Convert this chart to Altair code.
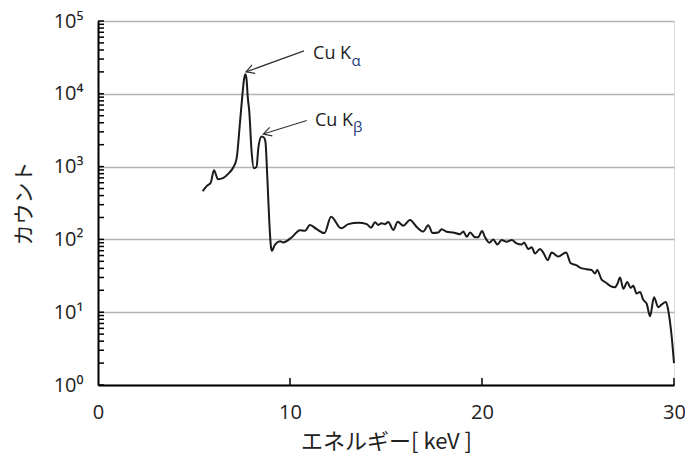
import altair as alt
import pandas as pd

# Spectrum (energy in keV, counts)
energy = [5.45, 5.66, 5.87, 6.04, 6.25, 6.53, 6.79, 7.05, 7.22, 7.40, 7.52, 7.61, 7.68, 7.74, 7.80, 7.88,
          8.00, 8.12, 8.26, 8.35, 8.52, 8.65, 8.72, 8.82, 8.92, 9.01, 9.06, 9.22, 9.48, 9.65,
          10.09, 10.52, 10.78, 11.04, 11.39, 11.79, 12.14, 12.66, 13.04, 13.56, 14.00, 14.22,
          14.43, 14.60, 14.77, 14.95, 15.12, 15.38, 15.61, 15.90, 16.25, 16.60, 16.94, 17.20,
          17.43, 17.72, 17.90, 18.16, 18.50, 18.85, 19.03, 19.20, 19.38, 19.64, 19.80, 20.00,
          20.16, 20.38, 20.59, 20.80, 21.02, 21.28, 21.55, 21.80, 22.07, 22.19, 22.41, 22.59,
          22.76, 23.02, 23.19, 23.42, 23.63, 23.97, 24.38, 24.62, 24.93, 25.10, 25.45, 25.71,
          25.89, 26.00, 26.23, 26.41, 26.67, 26.93, 27.05, 27.19, 27.36, 27.57, 27.74, 27.88,
          28.05, 28.23, 28.40, 28.58, 28.75, 28.96, 29.18, 29.36, 29.58, 29.70, 29.88, 30.00]
counts = [460, 540, 600, 890, 670, 700, 800, 980, 1300, 4200, 9600, 16000, 18500, 15500, 9000, 5700,
          1600, 950, 1000, 1800, 2600, 2500, 2200, 700, 180, 78, 70, 85, 94, 91,
          107, 134, 131, 158, 138, 122, 204, 142, 162, 169, 162, 145,
          172, 158, 167, 162, 174, 135, 175, 154, 184, 148, 128, 157,
          122, 124, 138, 127, 124, 118, 128, 109, 124, 107, 107, 130,
          107, 90, 100, 85, 98, 93, 98, 88, 85, 91, 74, 78,
          64, 74, 66, 52, 66, 58, 66, 47, 44, 41, 39, 38,
          34, 38, 28, 26, 23, 22, 24.5, 30, 21, 26, 21.6, 23,
          18, 19, 14.8, 13, 8.8, 16, 11.7, 12.8, 13.8, 10.6, 4.6, 2.0]

# Axes
x_ticks = [0, 10, 20, 30]
y_ticks = [1, 10, 100, 1000, 10000, 100000]
y_minor = [m * d for d in [1, 10, 100, 1000, 10000] for m in range(1, 10)] + [100000]

# Annotations
ann_label = ["Cu K", "Cu K"]
ann_sub = ["α", "β"]
ann_text_x = [11.2, 11.3]
ann_text_y = [34900, 4170]
ann_sub_x = [13.2, 13.28]
ann_sub_y = [28000, 3450]
arrow_x1 = [10.73, 10.87]
arrow_y1 = [38900, 4300]
arrow_x2 = [7.71, 8.61]
arrow_y2 = [20000, 2800]
arrow_angle = [160, 162.5]

spec = pd.DataFrame({"x": energy, "y": counts})
minor = pd.DataFrame({"y": y_minor})
xt = pd.DataFrame({"x": x_ticks[1:]})
ann = pd.DataFrame({
    "label": ann_label, "sub": ann_sub,
    "tx": ann_text_x, "ty": ann_text_y, "sx": ann_sub_x, "sy": ann_sub_y,
    "x1": arrow_x1, "y1": arrow_y1, "x2": arrow_x2, "y2": arrow_y2, "ang": arrow_angle,
})

W, H = 576, 364
LABEL_FONT = "Open Sans"
CJK_FONT = "Noto Sans CJK JP"

xscale = alt.Scale(domain=[0, 30], nice=False, zero=False)
yscale = alt.Scale(type="log", domain=[1, 100000], nice=False)

xaxis = alt.Axis(
    values=x_ticks, title="エネルギー[ keV ]", grid=False, ticks=False, tickSize=0,
    domainColor="#000", domainWidth=2, labelPadding=17, labelFont=LABEL_FONT,
    labelFlush=False, labelOverlap=False,
    labelFontSize=20, labelColor="#222", titleFont=CJK_FONT, titleFontSize=22,
    titleFontWeight="normal", titleColor="#222", titlePadding=9)
yaxis = alt.Axis(
    values=y_ticks, title="カウント", grid=True, gridColor="#b4b4b4", gridWidth=1.3,
    ticks=False, tickSize=0, domainColor="#000", domainWidth=2, labelPadding=15,
    labelFont=LABEL_FONT, labelFontSize=20, labelColor="#222",
    labelFlush=False, labelOverlap=False,
    labelExpr="'10' + ['⁰','¹','²','³','⁴','⁵'][round(log(datum.value)/LN10)]",
    titleFont=CJK_FONT, titleFontSize=21, titleFontWeight="normal", titleColor="#222",
    titlePadding=19)

line = alt.Chart(spec).mark_line(
    color="#1a1a1a", strokeWidth=2, interpolate="monotone"
).encode(
    x=alt.X("x:Q", scale=xscale, axis=xaxis),
    y=alt.Y("y:Q", scale=yscale, axis=yaxis),
)

ymin = alt.Chart(minor).mark_rule(color="#000", strokeWidth=1.5).encode(
    y=alt.Y("y:Q", scale=yscale, axis=yaxis),
    x=alt.value(0), x2=alt.value(6),
)

xmin = alt.Chart(xt).mark_rule(color="#000", strokeWidth=1.5).encode(
    x=alt.X("x:Q", scale=xscale, axis=xaxis),
    y=alt.value(H), y2=alt.value(H - 7),
)

arrows = alt.Chart(ann).mark_rule(color="#333", strokeWidth=1.2).encode(
    x=alt.X("x1:Q", scale=xscale, axis=xaxis), y=alt.Y("y1:Q", scale=yscale, axis=yaxis),
    x2="x2:Q", y2="y2:Q",
)

heads = alt.Chart(ann).mark_point(
    shape="M -1 -0.55 L 0 0 L -1 0.55", filled=False, color="#333", strokeWidth=1.2,
    size=260, opacity=1,
).encode(
    x=alt.X("x2:Q", scale=xscale, axis=xaxis), y=alt.Y("y2:Q", scale=yscale, axis=yaxis),
    angle=alt.Angle("ang:Q", scale=None),
)

texts = alt.Chart(ann).mark_text(
    align="left", baseline="middle", font=LABEL_FONT, fontSize=18, color="#222"
).encode(
    x=alt.X("tx:Q", scale=xscale, axis=xaxis), y=alt.Y("ty:Q", scale=yscale, axis=yaxis),
    text="label:N",
)

subs = alt.Chart(ann).mark_text(
    align="left", baseline="middle", font=LABEL_FONT, fontSize=15, color="#1f3f7a"
).encode(
    x=alt.X("sx:Q", scale=xscale, axis=xaxis), y=alt.Y("sy:Q", scale=yscale, axis=yaxis),
    text="sub:N",
)

chart = alt.layer(line, ymin, xmin, arrows, heads, texts, subs).properties(
    width=W, height=H,
    padding={"left": 90, "top": 13, "right": 11, "bottom": 70},
    autosize=alt.AutoSizeParams(type="none"),
).configure_view(stroke=None).configure(background="white")

chart.save("out.html", embed_options={"renderer": "svg", "actions": False})
